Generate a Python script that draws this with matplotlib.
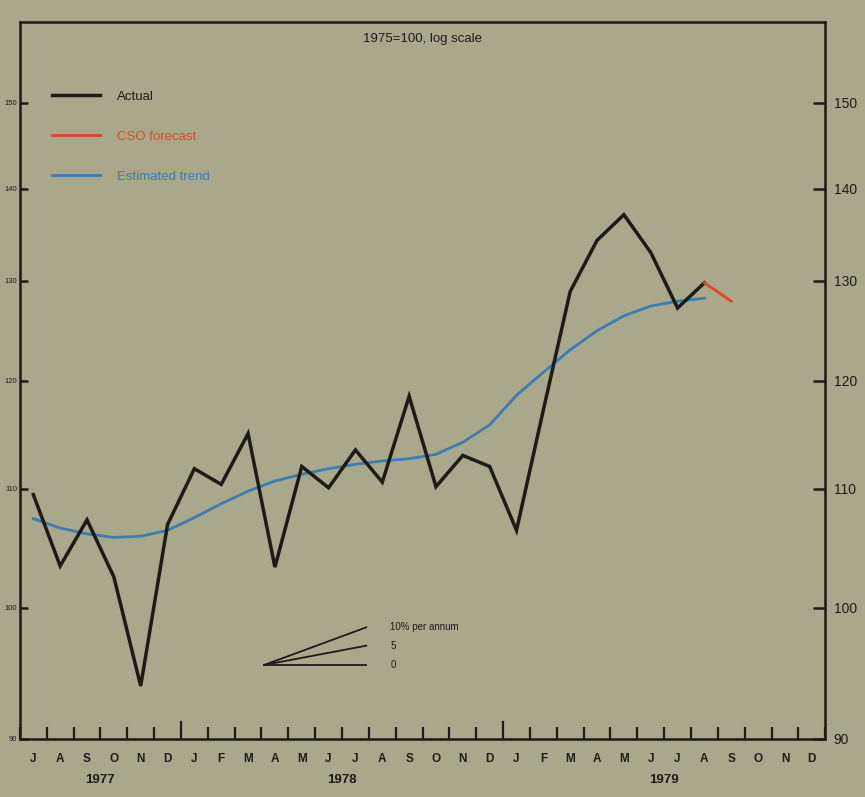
import matplotlib
matplotlib.use("Agg")
import matplotlib.pyplot as plt
from matplotlib.ticker import FixedLocator, NullLocator, NullFormatter
import matplotlib.transforms as mtransforms

plt.rcParams["font.family"] = ["Liberation Sans", "DejaVu Sans"]

# months Jul 1977 .. Dec 1979 (axis), data Jul 1977 .. Aug 1979
meses = ["J", "A", "S", "O", "N", "D",
         "J", "F", "M", "A", "M", "J", "J", "A", "S", "O", "N", "D",
         "J", "F", "M", "A", "M", "J", "J", "A", "S", "O", "N", "D"]
anios = ["1977", "1978", "1979"]
anio_inicio = [0, 6, 18]
anio_fin = [6, 18, 30]

actual = [109.5, 103.4, 107.3, 102.5, 93.9, 106.9,
          111.8, 110.4, 115.0, 103.3, 112.0, 110.1, 113.5, 110.6, 118.5, 110.2, 113.0, 112.0,
          106.4, 117.2, 128.9, 134.3, 137.1, 133.0, 127.2, 129.8]
pronostico = [129.8, 127.9]          # Aug, Sep 1979
tendencia = [107.4, 106.6, 106.1, 105.8, 105.9, 106.4,
             107.5, 108.7, 109.8, 110.7, 111.3, 111.8, 112.2, 112.5, 112.7, 113.1, 114.2, 115.8,
             118.6, 120.8, 123.0, 124.9, 126.4, 127.4, 127.9, 128.2]

tasas = [10, 5, 0]                   # slope guide, % per annum
etiquetas_tasas = ["10% per annum", "5", "0"]
ticks_y = [90, 100, 110, 120, 130, 140, 150]

fondo = "#aaa88a"
negro = "#1e1b17"
rojo = "#e0452a"
azul = "#3b7cb6"

fig = plt.figure(figsize=(8.65, 7.97), dpi=100, facecolor=fondo)
ax = fig.add_axes([0.023, 0.073, 0.931, 0.899], facecolor=fondo)

x_act = [i + 0.5 for i in range(len(actual))]
x_pro = [len(actual) - 0.5 + i for i in range(len(pronostico))]
x_ten = [i + 0.5 for i in range(len(tendencia))]

ax.plot(x_act, actual, color=negro, lw=2.5, solid_joinstyle="miter", label="Actual", zorder=3)
ax.plot(x_pro, pronostico, color=rojo, lw=2.0, label="CSO forecast", zorder=3)
ax.plot(x_ten, tendencia, color=azul, lw=2.0, label="Estimated trend", zorder=2)

ax.set_yscale("log")
ax.set_ylim(90, 160)
ax.set_xlim(0, 30)

# left axis: small labels, inward ticks
ax.yaxis.set_major_locator(FixedLocator(ticks_y))
ax.yaxis.set_minor_locator(NullLocator())
ax.yaxis.set_minor_formatter(NullFormatter())
ax.set_yticklabels([str(t) for t in ticks_y])
ax.tick_params(axis="y", direction="in", length=6, width=1.8, labelsize=5.5, pad=2, colors=negro)

# right axis
ax2 = ax.twinx()
ax2.set_yscale("log")
ax2.set_ylim(90, 160)
ax2.yaxis.set_major_locator(FixedLocator(ticks_y))
ax2.yaxis.set_minor_locator(NullLocator())
ax2.yaxis.set_minor_formatter(NullFormatter())
ax2.set_yticklabels([str(t) for t in ticks_y])
ax2.tick_params(axis="y", direction="in", length=9, width=1.8, labelsize=10, pad=6, colors=negro)

# x axis: ticks at month boundaries, labels at month centres
limites = list(range(0, 31))
ax.xaxis.set_major_locator(FixedLocator([b for b in limites if b not in anio_inicio[1:]]))
ax.xaxis.set_major_formatter(NullFormatter())
ax.tick_params(axis="x", which="major", direction="in", length=8.5, width=1.6, colors=negro)
ax.xaxis.set_minor_locator(FixedLocator([i + 0.5 for i in range(len(meses))]))
ax.set_xticklabels(meses, minor=True, fontweight="bold")
ax.tick_params(axis="x", which="minor", length=0, labelsize=8.5, pad=10, colors=negro)
# longer ticks at year boundaries
for b in anio_inicio[1:]:
    ax.axvline(b, ymin=0, ymax=0.024, color=negro, lw=1.6)

trans = mtransforms.blended_transform_factory(ax.transData, ax.transAxes)
for nombre, a, b in zip(anios, anio_inicio, anio_fin):
    ax.text((a + b) / 2, -0.058, nombre, transform=trans, ha="center", va="center",
            fontsize=9.5, fontweight="bold", color=negro)

for s in ax.spines.values():
    s.set_linewidth(1.8)
    s.set_color(negro)
for s in ax2.spines.values():
    s.set_visible(False)

ax.text(0.5, 0.985, "1975=100, log scale", transform=ax.transAxes, ha="center", va="top",
        fontsize=9.5, color=negro)

leg = ax.legend(loc="upper left", bbox_to_anchor=(0.04, 0.905), frameon=False,
                handlelength=3.6, handletextpad=1.3, labelspacing=2.1, fontsize=9.5,
                borderpad=0, borderaxespad=0, labelcolor="linecolor")

# growth-rate guide
x0, largo, v0 = 9.1, 3.8, 95.5
for tasa, texto in zip(tasas, etiquetas_tasas):
    v1 = v0 * (1 + tasa / 100) ** (largo / 12)
    ax.plot([x0, x0 + largo], [v0, v1], color=negro, lw=1.3, zorder=3)
    ax.text(x0 + largo + 0.9, v1, texto, ha="left", va="center", fontsize=7, color=negro)

fig.savefig("out.png", dpi=100, facecolor=fondo)
